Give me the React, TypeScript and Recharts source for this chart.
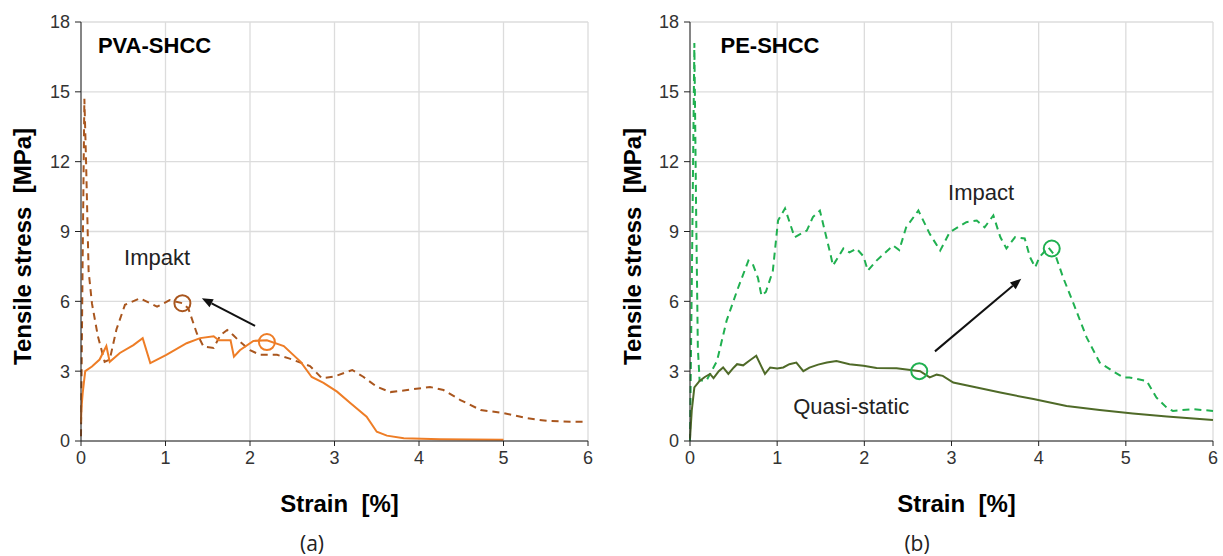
import React from "react";
import {
  LineChart,
  Line,
  XAxis,
  YAxis,
  CartesianGrid,
  ReferenceDot,
  ReferenceLine,
} from "recharts";

// strain [%] / stress [MPa]
const pvaQuasiStatic = [
  [0, 0.8], [0.005, 1.4], [0.02, 2.06], [0.05, 3.0], [0.13, 3.2], [0.22, 3.5],
  [0.3, 4.08], [0.34, 3.4], [0.46, 3.78], [0.62, 4.12], [0.73, 4.42], [0.82, 3.35],
  [1.01, 3.7], [1.25, 4.2], [1.41, 4.42], [1.57, 4.5], [1.63, 4.33], [1.77, 4.33],
  [1.81, 3.62], [1.88, 3.9], [2.04, 4.3], [2.2, 4.33], [2.4, 4.08], [2.6, 3.4],
  [2.73, 2.75], [2.87, 2.5], [3.03, 2.12], [3.19, 1.62], [3.38, 1.04], [3.5, 0.4],
  [3.62, 0.23], [3.82, 0.12], [4.25, 0.08], [5.0, 0.05],
];

const pvaImpact = [
  [0, 0.2], [0.02, 8], [0.04, 14.7], [0.06, 12], [0.09, 7.3], [0.13, 5.9],
  [0.2, 4.5], [0.28, 3.4], [0.34, 3.5], [0.42, 4.8], [0.52, 5.85], [0.7, 6.13],
  [0.9, 5.77], [1.05, 6.05], [1.2, 5.92], [1.27, 5.7], [1.37, 4.63], [1.45, 4.05],
  [1.57, 4.0], [1.65, 4.55], [1.73, 4.77], [1.8, 4.55], [1.88, 4.27], [2.0, 3.9],
  [2.12, 3.7], [2.32, 3.7], [2.46, 3.55], [2.71, 3.22], [2.85, 2.7], [2.99, 2.76],
  [3.21, 3.05], [3.34, 2.76], [3.5, 2.33], [3.66, 2.1], [3.86, 2.19], [4.13, 2.32],
  [4.29, 2.19], [4.49, 1.76], [4.73, 1.33], [5.0, 1.2], [5.28, 0.98], [5.52, 0.86],
  [5.79, 0.83], [5.97, 0.82],
];

const peQuasiStatic = [
  [0, 0.1], [0.02, 1.3], [0.05, 2.3], [0.11, 2.58], [0.17, 2.75], [0.23, 2.88],
  [0.27, 2.7], [0.33, 3.0], [0.38, 3.16], [0.44, 2.88], [0.5, 3.15], [0.54, 3.3],
  [0.61, 3.25], [0.68, 3.45], [0.76, 3.66], [0.86, 2.88], [0.92, 3.16], [1.0, 3.12],
  [1.07, 3.16], [1.14, 3.3], [1.22, 3.37], [1.3, 3.0], [1.37, 3.15], [1.47, 3.28],
  [1.57, 3.37], [1.68, 3.44], [1.83, 3.3], [1.99, 3.23], [2.14, 3.14], [2.37, 3.12],
  [2.64, 3.0], [2.75, 2.73], [2.83, 2.85], [2.9, 2.8], [3.02, 2.51], [3.29, 2.3],
  [3.56, 2.08], [3.94, 1.8], [4.32, 1.5], [4.7, 1.33], [5.08, 1.18], [5.47, 1.05],
  [6.0, 0.9],
];

const peImpact = [
  [0, 0], [0.03, 10], [0.05, 17.1], [0.07, 10], [0.09, 4], [0.11, 2.6], [0.19, 2.6],
  [0.31, 3.44], [0.42, 5.17], [0.54, 6.46], [0.67, 7.75], [0.72, 7.6], [0.78, 7.0],
  [0.82, 6.24], [0.87, 6.4], [0.95, 7.3], [1.01, 9.47], [1.09, 9.99], [1.2, 8.75],
  [1.34, 9.04], [1.41, 9.62], [1.49, 9.9], [1.61, 8.05], [1.64, 7.54], [1.76, 8.27],
  [1.83, 8.1], [1.91, 8.27], [1.99, 7.93], [2.04, 7.32], [2.14, 7.75], [2.33, 8.4],
  [2.4, 8.2], [2.48, 9.18], [2.62, 9.9], [2.75, 8.9], [2.87, 8.18], [2.98, 8.97],
  [3.17, 9.4], [3.29, 9.47], [3.38, 9.18], [3.48, 9.69], [3.56, 8.76], [3.63, 8.27],
  [3.73, 8.76], [3.84, 8.7], [3.9, 7.9], [3.96, 7.46], [4.01, 7.9], [4.11, 8.32],
  [4.2, 7.9], [4.28, 7.03], [4.4, 5.9], [4.55, 4.45], [4.7, 3.37], [4.85, 3.0],
  [4.97, 2.73], [5.04, 2.73], [5.24, 2.58], [5.35, 1.87], [5.47, 1.43], [5.54, 1.29],
  [5.77, 1.37], [6.0, 1.29],
];

const xTicks = [0, 1, 2, 3, 4, 5, 6];
const yTicks = [0, 3, 6, 9, 12, 15, 18];

const pvaCircles = [
  { x: 1.2, y: 5.92, c: "#a9561e" },
  { x: 2.2, y: 4.25, c: "#ee7d26" },
];
const peCircles = [
  { x: 2.63, y: 3.0, c: "#20b050" },
  { x: 4.15, y: 8.27, c: "#20b050" },
];

const pvaArrow = [{ x: 2.06, y: 4.95 }, { x: 1.43, y: 6.13 }];
const peArrow = [{ x: 2.81, y: 3.85 }, { x: 3.8, y: 6.97 }];

const toPts = (arr: number[][]) => arr.map(([x, y]) => ({ x, y }));

const FONT = "'Liberation Sans', Arial, sans-serif";

const Arrow = (p: any) => {
  const { x1, y1, x2, y2 } = p;
  const a = Math.atan2(y2 - y1, x2 - x1);
  const L = 11;
  const W = 4.5;
  const bx = x2 - L * Math.cos(a);
  const by = y2 - L * Math.sin(a);
  const nx = -Math.sin(a) * W;
  const ny = Math.cos(a) * W;
  return (
    <g>
      <line x1={x1} y1={y1} x2={bx} y2={by} stroke="#111" strokeWidth={2} />
      <polygon
        points={`${x2},${y2} ${bx + nx},${by + ny} ${bx - nx},${by - ny}`}
        fill="#111"
      />
    </g>
  );
};

const xTitle = (props: any) => {
  const { x, y, width } = props.viewBox;
  return (
    <text
      x={x + width / 2 + 5}
      y={y + 71}
      textAnchor="middle"
      fill="#000"
      style={{ fontFamily: FONT, fontWeight: 700, fontSize: 24, whiteSpace: "pre" }}
    >
      Strain  [%]
    </text>
  );
};

const yTitle = (props: any) => {
  const { x, y, height } = props.viewBox;
  const cx = x + 31;
  const cy = y + height / 2 + 15;
  return (
    <text
      x={cx}
      y={cy}
      textAnchor="middle"
      transform={`rotate(-90, ${cx}, ${cy})`}
      fill="#000"
      style={{ fontFamily: FONT, fontWeight: 700, fontSize: 24, whiteSpace: "pre" }}
    >
      Tensile stress  [MPa]
    </text>
  );
};

const tickStyle = { fontSize: 18, fill: "#333", fontFamily: FONT };

type PanelProps = {
  left: number;
  width: number;
  axisWidth: number;
  plotWidth: number;
  title: string;
  titleX: number;
  quasi: number[][];
  quasiColor: string;
  impact: number[][];
  impactColor: string;
  circles: { x: number; y: number; c: string }[];
  arrow: { x: number; y: number }[];
  labels: { x: number; y: number; text: string }[];
};

function Panel(p: PanelProps) {
  return (
    <div style={{ position: "absolute", left: p.left, top: 0 }}>
      <LineChart
        width={p.width}
        height={556}
        margin={{ top: 22, right: p.width - p.axisWidth - p.plotWidth, left: 0, bottom: 40 }}
      >
        <CartesianGrid stroke="#dcdcdc" strokeWidth={1.3} />
        <XAxis
          type="number"
          dataKey="x"
          domain={[0, 6]}
          ticks={xTicks}
          tickSize={5}
          tickMargin={5}
          height={75}
          stroke="#222"
          tick={tickStyle}
          label={xTitle}
        />
        <YAxis
          type="number"
          dataKey="y"
          domain={[0, 18]}
          ticks={yTicks}
          tickSize={6}
          tickMargin={5}
          width={p.axisWidth}
          stroke="#222"
          tick={tickStyle}
          label={yTitle}
        />
        <Line
          data={toPts(p.impact)}
          dataKey="y"
          stroke={p.impactColor}
          strokeWidth={2}
          strokeDasharray="7 5"
          dot={false}
          isAnimationActive={false}
        />
        <Line
          data={toPts(p.quasi)}
          dataKey="y"
          stroke={p.quasiColor}
          strokeWidth={2}
          dot={false}
          isAnimationActive={false}
        />
        {p.circles.map((c, i) => (
          <ReferenceDot
            key={i}
            x={c.x}
            y={c.y}
            r={8}
            fill="none"
            stroke={c.c}
            strokeWidth={2}
          />
        ))}
        <ReferenceLine segment={p.arrow} shape={Arrow} />
        {p.labels.map((l, i) => (
          <ReferenceDot
            key={"l" + i}
            x={l.x}
            y={l.y}
            r={0}
            fill="none"
            stroke="none"
            label={{
              value: l.text,
              position: "center",
              fill: "#222",
              fontSize: 22,
              fontFamily: FONT,
            }}
          />
        ))}
        <ReferenceDot
          x={p.titleX}
          y={17.0}
          r={0}
          fill="none"
          stroke="none"
          label={{
            value: p.title,
            position: "right",
            offset: 0,
            fill: "#000",
            fontSize: 22,
            fontWeight: 700,
            fontFamily: FONT,
          }}
        />
      </LineChart>
    </div>
  );
}

const captionStyle: React.CSSProperties = {
  position: "absolute",
  top: 531,
  width: 60,
  height: 25,
  textAlign: "center",
  lineHeight: "25px",
  fontSize: 21,
  fontFamily: "'Open Sans', sans-serif",
  color: "#222",
};

export default function App() {
  return (
    <div
      style={{
        position: "absolute",
        left: 0,
        top: 0,
        width: 1223,
        height: 556,
        background: "#fff",
        overflow: "hidden",
      }}
    >
      <Panel
        left={0}
        width={600}
        axisWidth={81}
        plotWidth={507}
        title="PVA-SHCC"
        titleX={0.2}
        quasi={pvaQuasiStatic}
        quasiColor="#ee7d26"
        impact={pvaImpact}
        impactColor="#a9561e"
        circles={pvaCircles}
        arrow={pvaArrow}
        labels={[{ x: 0.9, y: 7.9, text: "Impakt" }]}
      />
      <Panel
        left={610}
        width={613}
        axisWidth={80}
        plotWidth={523}
        title="PE-SHCC"
        titleX={0.35}
        quasi={peQuasiStatic}
        quasiColor="#4f6a28"
        impact={peImpact}
        impactColor="#20b050"
        circles={peCircles}
        arrow={peArrow}
        labels={[
          { x: 3.34, y: 10.7, text: "Impact" },
          { x: 1.85, y: 1.5, text: "Quasi-static" },
        ]}
      />
      <div style={{ ...captionStyle, left: 282 }}>(a)</div>
      <div style={{ ...captionStyle, left: 887 }}>(b)</div>
    </div>
  );
}
